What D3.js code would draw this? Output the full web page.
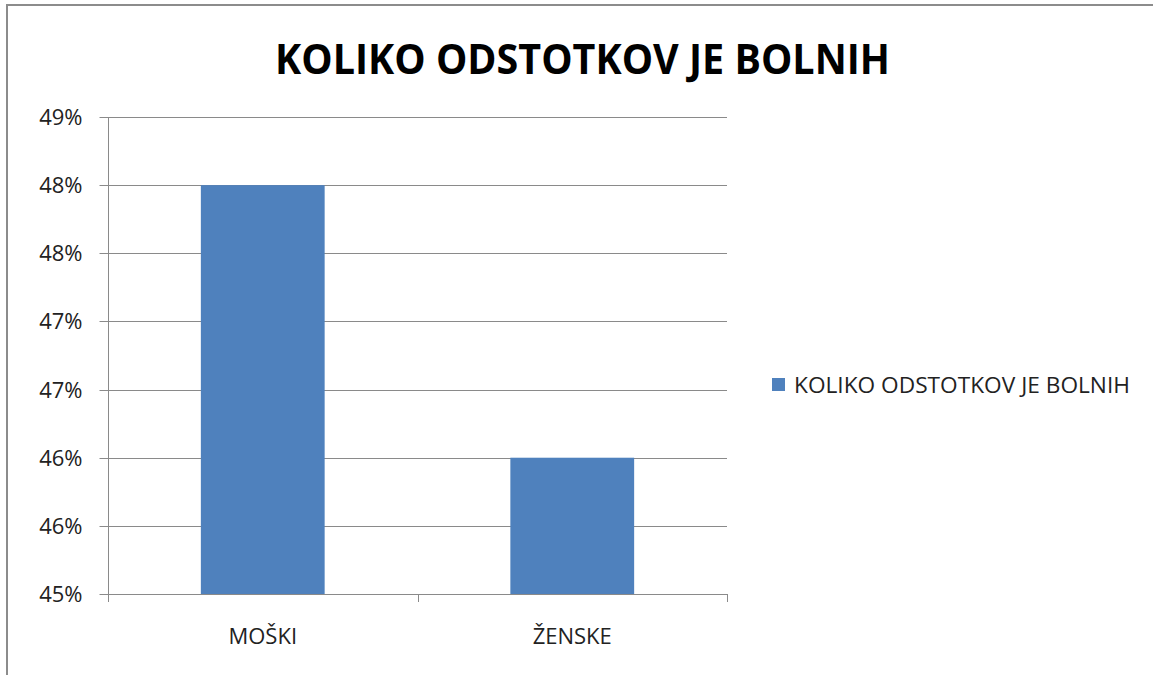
<!DOCTYPE html>
<html>
<head>
<meta charset="utf-8">
<script src="https://cdn.jsdelivr.net/npm/d3@7/dist/d3.min.js"></script>
<style>
  html, body { margin: 0; padding: 0; background: #fff; }
  svg { display: block; }
</style>
</head>
<body>
<svg id="chart" width="1153" height="675"></svg>
<script>
const title = "KOLIKO ODSTOTKOV JE BOLNIH";
const seriesName = "KOLIKO ODSTOTKOV JE BOLNIH";
const categories = ["MOŠKI", "ŽENSKE"];
const values = [0.48, 0.46];
const tickValues = [0.45, 0.455, 0.46, 0.465, 0.47, 0.475, 0.48, 0.485];
const tickLabels = ["45%", "46%", "46%", "47%", "47%", "48%", "48%", "49%"];

const svg = d3.select("#chart");
const font = "'Open Sans', 'DejaVu Sans', sans-serif";
const gridColor = "#8a8a8a";
const barColor = "#4f81bd";

const plot = { left: 108, right: 727, top: 117, bottom: 594 };

// outer frame
svg.append("rect")
  .attr("x", 7).attr("y", 5)
  .attr("width", 1160).attr("height", 700)
  .attr("fill", "none").attr("stroke", "#8c8c8c").attr("stroke-width", 2);

const y = d3.scaleLinear().domain([0.45, 0.485]).range([plot.bottom, plot.top]);
const x = d3.scaleBand().domain(categories).range([plot.left, plot.right])
  .paddingInner(0.6).paddingOuter(0.3);
const xCat = d3.scaleBand().domain(categories).range([plot.left, plot.right]).padding(0);

// gridlines
svg.append("g").selectAll("line")
  .data(tickValues.slice(1))
  .join("line")
  .attr("x1", plot.left).attr("x2", plot.right)
  .attr("y1", d => Math.round(y(d)) + 0.5).attr("y2", d => Math.round(y(d)) + 0.5)
  .attr("stroke", gridColor).attr("stroke-width", 1);

// bars
svg.append("g").selectAll("rect")
  .data(categories)
  .join("rect")
  .attr("x", d => x(d))
  .attr("width", x.bandwidth())
  .attr("y", (d, i) => y(values[i]))
  .attr("height", (d, i) => y(0.45) - y(values[i]))
  .attr("fill", barColor);

// y axis
const yAxis = d3.axisLeft(y)
  .tickValues(tickValues)
  .tickFormat((d, i) => tickLabels[i])
  .tickSize(9)
  .tickPadding(17);
const gy = svg.append("g").attr("transform", `translate(${plot.left + 0.5},0)`).call(yAxis);
gy.select(".domain").attr("stroke", gridColor).attr("d", `M0,${plot.top}V${plot.bottom}`);
gy.selectAll(".tick").attr("transform", d => `translate(0,${Math.round(y(d)) + 0.5})`);
gy.selectAll(".tick line").attr("stroke", gridColor);
gy.selectAll(".tick text")
  .attr("font-family", font).attr("font-size", 22).attr("fill", "#222")
  .attr("dy", "0.36em");

// x axis line and ticks
const gx = svg.append("g");
gx.append("line")
  .attr("x1", plot.left).attr("x2", plot.right)
  .attr("y1", plot.bottom + 0.5).attr("y2", plot.bottom + 0.5)
  .attr("stroke", gridColor).attr("stroke-width", 1);
const xTickPos = categories.map(c => xCat(c)).concat([xCat.range()[1]]);
gx.selectAll("line.tk")
  .data(xTickPos)
  .join("line")
  .attr("class", "tk")
  .attr("x1", d => Math.round(d) + 0.5).attr("x2", d => Math.round(d) + 0.5)
  .attr("y1", plot.bottom).attr("y2", plot.bottom + 8)
  .attr("stroke", gridColor);
gx.selectAll("text")
  .data(categories)
  .join("text")
  .attr("x", d => x(d) + x.bandwidth() / 2)
  .attr("y", 644)
  .attr("text-anchor", "middle")
  .attr("font-family", font).attr("font-size", 22).attr("fill", "#222")
  .text(d => d);

// title
svg.append("text")
  .attr("x", 275).attr("y", 73.5)
  .attr("font-family", font).attr("font-weight", "bold").attr("font-size", 42)
  .attr("textLength", 615).attr("lengthAdjust", "spacingAndGlyphs")
  .attr("fill", "#000")
  .text(title);

// legend
const lg = svg.append("g");
lg.append("rect")
  .attr("x", 772).attr("y", 378).attr("width", 13).attr("height", 13)
  .attr("fill", barColor);
lg.append("text")
  .attr("x", 794).attr("y", 392.5)
  .attr("font-family", font).attr("font-size", 22).attr("fill", "#222")
  .attr("textLength", 336).attr("lengthAdjust", "spacingAndGlyphs")
  .text(seriesName);
</script>
</body>
</html>
